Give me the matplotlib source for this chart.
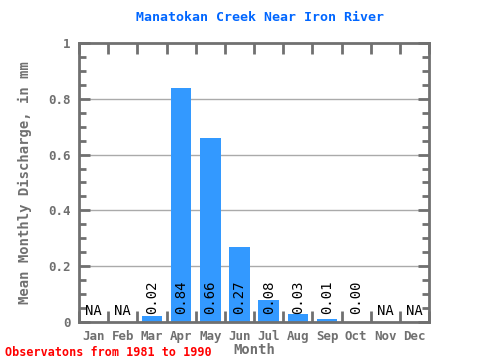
import matplotlib
matplotlib.use("Agg")
import matplotlib.pyplot as plt
import numpy as np

months = ["Jan", "Feb", "Mar", "Apr", "May", "Jun", "Jul", "Aug", "Sep", "Oct", "Nov", "Dec"]
values = [None, None, 0.02, 0.84, 0.66, 0.27, 0.08, 0.03, 0.01, 0.00, None, None]
labels = ["NA", "NA", "0.02", "0.84", "0.66", "0.27", "0.08", "0.03", "0.01", "0.00", "NA", "NA"]
yticks = [0, 0.2, 0.4, 0.6, 0.8, 1]
ytick_labels = ["0", "0.2", "0.4", "0.6", "0.8", "1"]

mono = "DejaVu Sans Mono"
gray = "#707070"

fig = plt.figure(figsize=(4.8, 3.6), dpi=100)
ax = fig.add_axes([0.1646, 0.1056, 0.894 - 0.1646, 0.8806 - 0.1056])

x = np.arange(len(months))
heights = [v if v is not None else 0 for v in values]
ax.bar(x, heights, width=0.7, color="#3399ff", zorder=2)

ax.set_xlim(-0.5, 11.5)
ax.set_ylim(0, 1)

for yv in [0.2, 0.4, 0.6, 0.8]:
    ax.axhline(yv, color="#aaaaaa", lw=1, zorder=1)

for xi, lab, v in zip(x, labels, values):
    if v is None:
        ax.text(xi, 0.04, lab, ha="center", va="center", fontsize=10, family=mono, color="black", zorder=3)
    else:
        ax.text(xi, 0.028, lab, ha="center", va="bottom", rotation=90, fontsize=10, family=mono, color="black", zorder=3)

for s in ax.spines.values():
    s.set_color(gray)
    s.set_linewidth(2)

ax.set_yticks(yticks)
ax.set_yticklabels(ytick_labels, family=mono, fontsize=9, fontweight="bold", color=gray)
ax.set_yticks([t for t in np.arange(0, 1.0001, 0.05) if round(t * 20) % 4 != 0], minor=True)
ax.set_xticks(x)
ax.set_xticklabels(months, family=mono, fontsize=9, fontweight="bold", color=gray)
ax.set_xticks(np.arange(-0.5, 11.6, 1), minor=True)

ax.tick_params(axis="y", which="major", direction="in", left=True, right=True, length=8, width=2, color=gray, pad=6)
ax.tick_params(axis="y", which="minor", direction="in", left=True, right=True, length=5, width=2, color=gray)
ax.tick_params(axis="x", which="major", length=0, pad=6)
ax.tick_params(axis="x", which="minor", direction="in", top=True, bottom=True, length=8, width=2, color=gray)

ax.set_xlabel("Month", family=mono, fontsize=10, fontweight="bold", color=gray, labelpad=0)
ax.set_ylabel("Mean Monthly Discharge, in mm", family=mono, fontsize=10, fontweight="bold", color=gray, labelpad=12)

fig.text(0.5417, 0.952, "Manatokan Creek Near Iron River", ha="center", va="center",
         family=mono, fontsize=9.5, fontweight="bold", color="#0066ff")
fig.text(0.01, 0.022, "Observatons from 1981 to 1990", ha="left", va="center",
         family=mono, fontsize=8.5, fontweight="bold", color="red")

fig.savefig("out.png", dpi=100)
